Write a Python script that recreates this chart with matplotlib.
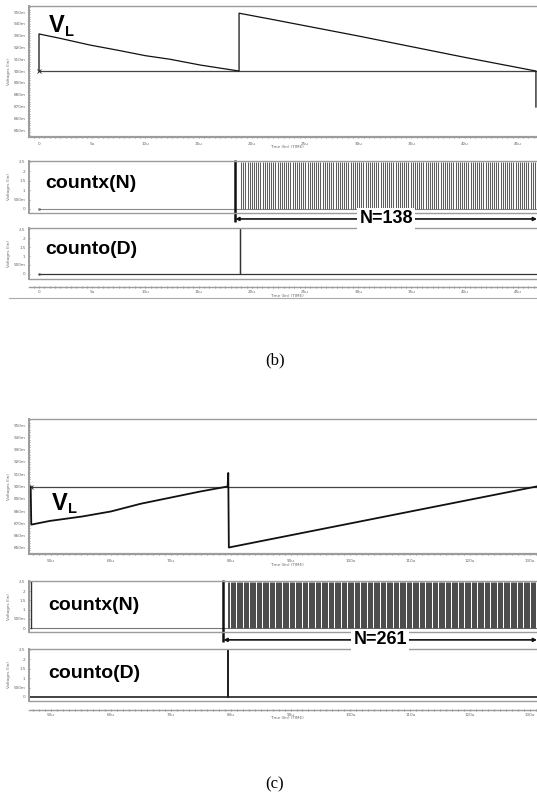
import numpy as np
import matplotlib
matplotlib.use("Agg")
import matplotlib.pyplot as plt
from matplotlib.ticker import MultipleLocator, FixedLocator, FuncFormatter

W_PX, H_PX = 537, 799

# ---- panel (b): VL in mV, time in us ----
B_VL_T = [0.0, 0.0, 1.98, 4.8, 7.3, 10.0, 12.3, 15.2, 18.8, 18.8, 21.75, 30.0, 40.0, 46.7, 46.7]
B_VL_V = [900.0, 931.4, 927.7, 922.0, 917.8, 913.0, 910.0, 905.0, 900.0, 949.0, 944.0, 929.7, 911.6, 900.0, 869.5]
B_REF_T = [0.0, 46.8]
B_N = 138                      # countx pulses
B_PULSE = (19.0, 46.8)         # start / end of the pulse train
B_MARK = 18.45                 # bold marker line where counting starts
B_D_SPIKE = 18.9               # counto pulse
B_XLIM = (-0.94, 46.8)
B_XTICKS = [0, 5, 10, 15, 20, 25, 30, 35, 40, 45]

# ---- panel (c) ----
C_VL_T = [46.6, 46.7, 49.8, 55.2, 60.0, 65.0, 70.0, 75.0, 79.5, 79.6, 79.7, 131.1]
C_VL_V = [900.0, 869.0, 872.0, 875.6, 879.7, 886.0, 891.0, 896.0, 900.0, 911.0, 850.4, 900.0]
C_REF_T = [46.5, 131.2]
C_N = 261
C_PULSE = (79.6, 131.1)
C_MARK = 78.8
C_D_SPIKE = 79.5
C_X_SPIKE = 46.6               # lone countx spike at the left edge
C_XLIM = (46.32, 131.17)
C_XTICKS = [50, 60, 70, 80, 90, 100, 110, 120, 130]

VL_TICKS = [850, 860, 870, 880, 890, 900, 910, 920, 930, 940, 950]
CNT_TICKS = [0, 0.5, 1, 1.5, 2, 2.5]
CNT_LABELS = ["0", "500m", "1", "1.5", "2", "2.5"]

GRID = "#9c9c9c"
TICKC = "#666666"
TFS = 3.0


def px_axes(fig, left, top, right, bottom):
    return fig.add_axes([left / W_PX, 1 - bottom / H_PX,
                         (right - left) / W_PX, (bottom - top) / H_PX])


def style(ax):
    for s in ax.spines.values():
        s.set_color(GRID)
        s.set_linewidth(1.0)
    ax.spines["right"].set_visible(False)
    ax.spines["left"].set_linewidth(1.4)
    ax.tick_params(axis="both", which="both", colors=TICKC, labelsize=TFS,
                   direction="inout", length=2, width=0.5, pad=1.5)
    ax.tick_params(which="minor", length=1.2)
    ax.set_ylabel("Voltages (lin)", fontsize=TFS, color=TICKC, labelpad=2)


def pulse_starts(t0, t1, n):
    # one rising edge per counted pulse, n pulses spread over [t0, t1]
    return np.linspace(t0, t1, n + 1)[:-1]


def vl_axes(fig, box, ylim, xlim, xticks, minor, tt, vv, ref_t, label_pos, lw):
    ax = px_axes(fig, *box)
    style(ax)
    ax.plot(ref_t, [900, 900], color="#444444", lw=0.9)
    ax.plot(tt, vv, color="#111111", lw=lw)
    ax.plot(tt[0], 900, marker="x", ms=2.5, mew=0.6, color="#222222")
    ax.set_ylim(*ylim)
    ax.set_xlim(*xlim)
    ax.yaxis.set_major_locator(FixedLocator(VL_TICKS))
    ax.yaxis.set_major_formatter(FuncFormatter(lambda v, p: f"{v:.0f}m"))
    ax.yaxis.set_minor_locator(MultipleLocator(2))
    ax.xaxis.set_major_locator(FixedLocator(xticks))
    ax.xaxis.set_major_formatter(FuncFormatter(lambda v, p: "0" if v == 0 else f"{v:.0f}u"))
    ax.xaxis.set_minor_locator(MultipleLocator(minor))
    ax.spines["bottom"].set_linewidth(1.6)
    ax.tick_params(axis="x", pad=2.5)
    # V_L label
    vx, vy, lx, ly = label_pos
    fig.text(vx / W_PX, 1 - vy / H_PX, "V", fontsize=17, fontweight="bold",
             family="Liberation Sans", va="center", ha="left")
    fig.text(lx / W_PX, 1 - ly / H_PX, "L", fontsize=10.5, fontweight="bold",
             family="Liberation Sans", va="center", ha="left")
    return ax


def count_axes(fig, box, ylim, xlim, name, name_pos):
    ax = px_axes(fig, *box)
    style(ax)
    ax.set_ylim(*ylim)
    ax.set_xlim(*xlim)
    ax.yaxis.set_major_locator(FixedLocator(CNT_TICKS))
    ax.set_yticklabels(CNT_LABELS)
    ax.set_xticks([])
    fig.text(name_pos[0] / W_PX, 1 - name_pos[1] / H_PX, name, fontsize=14,
             fontweight="bold", family="Liberation Sans", va="center", ha="left")
    return ax


def ruler(fig, y, xlim, xticks, minor, fmt):
    ax = px_axes(fig, 29, y - 1, 537, y)
    for k in ("top", "left", "right"):
        ax.spines[k].set_visible(False)
    ax.spines["bottom"].set_color(GRID)
    ax.spines["bottom"].set_linewidth(1.0)
    ax.set_yticks([])
    ax.set_xlim(*xlim)
    ax.xaxis.set_major_locator(FixedLocator(xticks))
    ax.xaxis.set_major_formatter(FuncFormatter(fmt))
    ax.xaxis.set_minor_locator(MultipleLocator(minor))
    ax.tick_params(axis="x", which="both", colors=TICKC, labelsize=TFS,
                   direction="inout", length=2, width=0.5, pad=1.0)
    ax.tick_params(which="minor", length=1.2)
    return ax


def arrow_count(fig, ax, mark, t_end, y_arrow, y_top, y_bot, text):
    ax.plot([mark, mark], [y_top, y_bot], color="#111111", lw=1.8, clip_on=False,
            solid_capstyle="butt")
    ax.annotate("", xy=(t_end, y_arrow), xytext=(mark, y_arrow),
                arrowprops=dict(arrowstyle="<|-|>", lw=1.2, color="#111111",
                                mutation_scale=5, shrinkA=0, shrinkB=0),
                annotation_clip=False)
    fig.text(0.5 * (mark + t_end), y_arrow, text, transform=ax.transData,
             fontsize=13, fontweight="bold", family="Liberation Sans",
             ha="center", va="center",
             bbox=dict(facecolor="white", edgecolor="none", pad=1.5))


def time_label(fig, y):
    fig.text(270 / W_PX, 1 - y / H_PX, "Time (lin) (TIME)", fontsize=TFS,
             color=TICKC, va="center", ha="left")


fig = plt.figure(figsize=(W_PX / 100, H_PX / 100), dpi=100)
fmt_b = lambda v, p: "0" if v == 0 else f"{v:.0f}u"
fmt_c = lambda v, p: f"{v:.0f}u"

# ================= (b) =================
vl_axes(fig, (29, 6, 537, 137), (844.1, 955.1), B_XLIM, B_XTICKS, 0.5,
        B_VL_T, B_VL_V, B_REF_T, (49, 26, 65, 32), 0.9)
time_label(fig, 147)

axn = count_axes(fig, (29, 161, 537, 213), (-0.213, 2.553), B_XLIM, "countx(N)", (45, 184))
axn.plot([0, B_PULSE[1]], [0, 0], color="#888888", lw=0.8)
axn.vlines(pulse_starts(*B_PULSE, B_N), 0, 2.5, color="#5e5e5e", lw=0.75)
axn.plot(0, 0, marker="o", ms=1.5, mfc="none", mew=0.4, color="#555555")
arrow_count(fig, axn, B_MARK, B_XLIM[1], -0.53, 2.62, -0.69, "N=138")

axd = count_axes(fig, (29, 228, 537, 279), (-0.278, 2.556), B_XLIM, "counto(D)", (45, 250))
axd.plot([0, B_D_SPIKE, B_D_SPIKE, B_D_SPIKE, B_XLIM[1]], [0, 0, 2.5, 0, 0],
         color="#333333", lw=0.9)
axd.plot(0, 0, marker="o", ms=1.5, mfc="none", mew=0.4, color="#555555")

ruler(fig, 287, B_XLIM, B_XTICKS, 0.5, fmt_b)
time_label(fig, 296)
fig.add_artist(plt.Line2D([9 / W_PX, 1], [1 - 297.5 / H_PX] * 2, color="#aaaaaa", lw=0.8))

fig.text(275 / W_PX, 1 - 360 / H_PX, "(b)", fontsize=12, family="Liberation Serif",
         ha="center", va="center")

# ================= (c) =================
vl_axes(fig, (29, 419, 537, 554), (845.1, 954.9), C_XLIM, C_XTICKS, 1.0,
        C_VL_T, C_VL_V, C_REF_T, (52, 503, 68, 509), 1.3)
time_label(fig, 565)

axn = count_axes(fig, (29, 581, 537, 632), (-0.213, 2.55), C_XLIM, "countx(N)", (48, 605))
axn.plot([C_XLIM[0], C_PULSE[1]], [0, 0], color="#777777", lw=0.8)
axn.plot([C_X_SPIKE, C_X_SPIKE], [0, 2.5], color="#333333", lw=1.0)
axn.vlines(pulse_starts(*C_PULSE, C_N), 0, 2.5, color="#484848", lw=0.7)
arrow_count(fig, axn, C_MARK, C_XLIM[1], -0.64, 2.61, -0.745, "N=261")

axd = count_axes(fig, (29, 649, 537, 701), (-0.213, 2.553), C_XLIM, "counto(D)", (48, 674))
axd.plot([C_XLIM[0], C_D_SPIKE, C_D_SPIKE, C_D_SPIKE, C_XLIM[1]], [0, 0, 2.5, 0, 0],
         color="#222222", lw=1.2)

ruler(fig, 710, C_XLIM, C_XTICKS, 1.0, fmt_c)
time_label(fig, 718)

fig.text(275 / W_PX, 1 - 784 / H_PX, "(c)", fontsize=12, family="Liberation Serif",
         ha="center", va="center")

fig.savefig("out.png", dpi=100)
